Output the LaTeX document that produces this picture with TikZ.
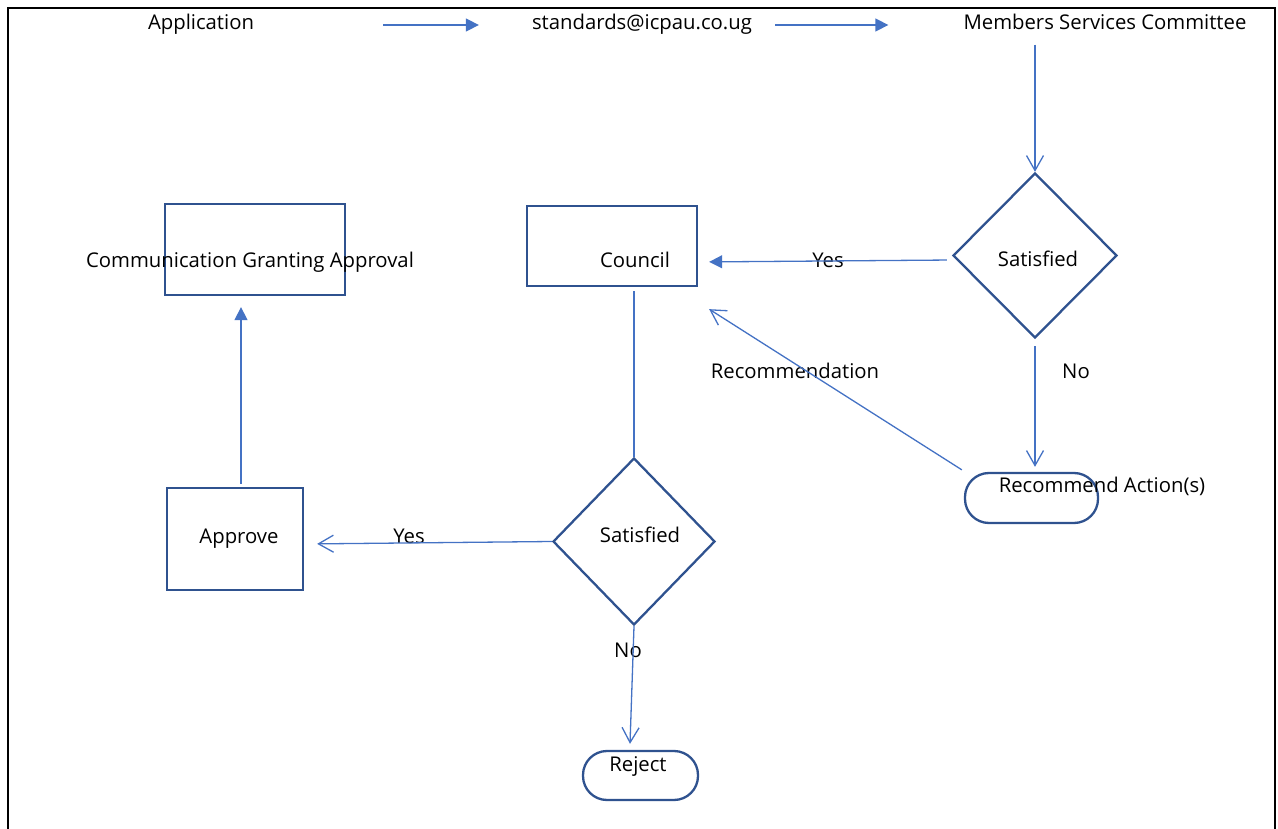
\documentclass[tikz,border=0pt]{standalone}
\usepackage{fontspec}
\setmainfont{Open Sans}
\usetikzlibrary{arrows.meta,shapes.geometric}
\definecolor{conn}{RGB}{68,114,196}
\definecolor{shp}{RGB}{47,82,143}
\tikzset{
  txt/.style={inner sep=0pt, font=\fontsize{20.3}{24}\selectfont, text=black, text height=15pt, text depth=0pt},
  boxshape/.style={draw=shp, line width=2.3pt, inner sep=0pt},
  dia/.style={diamond, draw=shp, line width=2.3pt, inner sep=0pt, font=\fontsize{20.3}{24}\selectfont},
  stad/.style={draw=shp, line width=2.3pt, rounded corners=24pt, inner sep=0pt},
  fillarrow/.style={draw=conn, line width=1.3pt, -{Triangle[length=13pt,width=13pt]}},
  openarrow/.style={draw=conn, line width=1.3pt, -{Straight Barb[length=15pt,width=17pt,line width=1.3pt]}},
  plainline/.style={draw=conn, line width=1.3pt},
}
\begin{document}
\begin{tikzpicture}[x=1pt,y=-1pt]
\useasboundingbox (0,0) rectangle (1278,829);
% frame
\draw[black, line width=1.3pt] (8,829) -- (8,8) -- (1275,8) -- (1275,829);

% top row
\node[txt] (app) at (201,22) {Application};
\node[txt] (std) at (642,22) {standards@icpau.co.ug};
\node[txt] (msc) at (1105,22) {Members Services Committee};

% shapes
\node[dia, minimum width=164pt, minimum height=165pt] (d1) at (1035,255.5) {};
\node[txt] (d1txt) at (1038,259) {Satisfied};
\node[boxshape, minimum width=170pt, minimum height=80pt] (council) at (612,246) {};
\node[txt] (counciltxt) at (635,260) {Council};
\node[boxshape, minimum width=180pt, minimum height=91pt] (comm) at (255,249.5) {};
\node[txt] (commtxt) at (250,260) {Communication Granting Approval};
\node[dia, minimum width=162pt, minimum height=167pt] (d2) at (634,541.5) {};
\node[txt] (d2txt) at (640,535) {Satisfied};
\node[boxshape, minimum width=136pt, minimum height=102pt] (approve) at (235,539) {};
\node[txt] (approvetxt) at (239,536) {Approve};
\node[stad, minimum width=133pt, minimum height=50pt] (rec) at (1031.5,498) {};
\node[txt] (rectxt) at (1102,485) {Recommend Action(s)};
\node[stad, minimum width=115pt, minimum height=49pt] (reject) at (640.5,775.5) {};
\node[txt] (rejecttxt) at (638,764) {Reject};

% labels
\node[txt] (yes1) at (828,260) {Yes};
\node[txt] (no1) at (1076,371) {No};
\node[txt] (recom) at (795,371) {Recommendation};
\node[txt] (yes2) at (409,536) {Yes};
\node[txt] (no2) at (628,650) {No};

% connectors
\draw[fillarrow, shorten <=129pt, shorten >=53pt] ([shift={(0,3)}]app.east) -- ([shift={(0,3)}]app.east -| std.west);
\draw[fillarrow, shorten <=23pt, shorten >=75pt] ([shift={(0,3)}]std.east) -- ([shift={(0,3)}]std.east -| msc.west);
\draw[openarrow, shorten <=15pt] (msc.south -| d1.north) -- (d1.north);
\draw[fillarrow, shorten <=5pt, shorten >=11pt] ([shift={(0,4.5)}]d1.west) -- ([shift={(0,6.5)}]d1.west -| council.east);
\draw[openarrow, shorten <=7pt, shorten >=5pt] (d1.south) -- (d1.south |- rec.north);
\draw[openarrow] ([shift={(-2,-2)}]rec.north west) -- ([shift={(11,22)}]council.south east);
\draw[plainline, shorten <=4pt] (d2.north |- council.south) -- (d2.north);
\draw[openarrow, shorten >=13pt] (d2.west) -- ([shift={(0,2.5)}]d2.west -| approve.east);
\draw[fillarrow, shorten <=3pt, shorten >=11pt] ([xshift=6pt]approve.north) -- ([xshift=6pt]approve.north |- comm.south);
\draw[openarrow] (d2.south) -- ([shift={(-10.5,-6)}]reject.north);
\end{tikzpicture}
\end{document}
